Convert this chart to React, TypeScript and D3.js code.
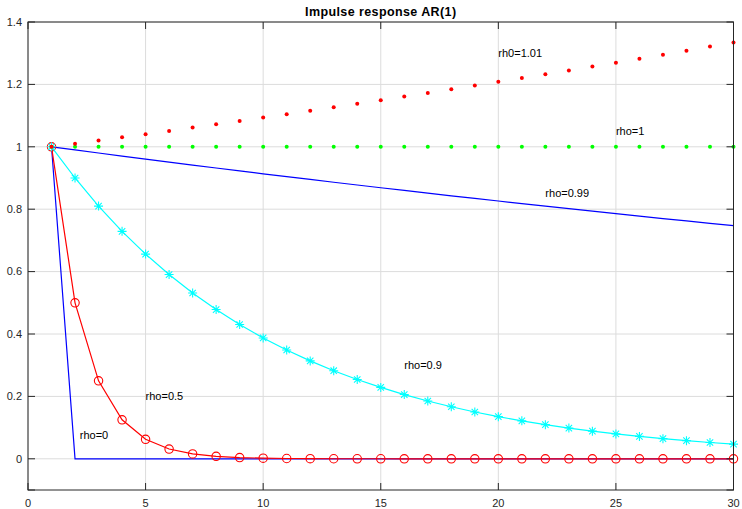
import { useEffect, useRef } from 'react';
import * as d3 from 'd3';

// lag index 1..30
const lags = d3.range(1, 31);

const rho101 = [1, 1.01, 1.0201, 1.0303, 1.0406, 1.051, 1.0615, 1.0721, 1.0829, 1.0937,
    1.1046, 1.1157, 1.1268, 1.1381, 1.1495, 1.161, 1.1726, 1.1843, 1.1961, 1.2081,
    1.2202, 1.2324, 1.2447, 1.2572, 1.2697, 1.2824, 1.2953, 1.3082, 1.3213, 1.3345];
const rho1 = [1, 1, 1, 1, 1, 1, 1, 1, 1, 1, 1, 1, 1, 1, 1, 1, 1, 1, 1, 1, 1, 1, 1, 1, 1, 1, 1, 1, 1, 1];
const rho099 = [1, 0.99, 0.9801, 0.9703, 0.9606, 0.951, 0.9415, 0.9321, 0.9227, 0.9135,
    0.9044, 0.8953, 0.8864, 0.8775, 0.8687, 0.8601, 0.8515, 0.8429, 0.8345, 0.8262,
    0.8179, 0.8097, 0.8016, 0.7936, 0.7857, 0.7778, 0.77, 0.7623, 0.7547, 0.7472];
const rho09 = [1, 0.9, 0.81, 0.729, 0.6561, 0.5905, 0.5314, 0.4783, 0.4305, 0.3874,
    0.3487, 0.3138, 0.2824, 0.2542, 0.2288, 0.2059, 0.1853, 0.1668, 0.1501, 0.1351,
    0.1216, 0.1094, 0.0985, 0.0886, 0.0798, 0.0718, 0.0646, 0.0581, 0.0523, 0.0471];
const rho05 = [1, 0.5, 0.25, 0.125, 0.0625, 0.0313, 0.0156, 0.0078, 0.0039, 0.002,
    0.001, 0.0005, 0.0002, 0.0001, 0.0001, 0, 0, 0, 0, 0, 0, 0, 0, 0, 0, 0, 0, 0, 0, 0];
const rho0 = [1, 0, 0, 0, 0, 0, 0, 0, 0, 0, 0, 0, 0, 0, 0, 0, 0, 0, 0, 0, 0, 0, 0, 0, 0, 0, 0, 0, 0, 0];

const xTicks = [0, 5, 10, 15, 20, 25, 30];
const yTicks = [0, 0.2, 0.4, 0.6, 0.8, 1, 1.2, 1.4];

const labels = [
    { text: 'rh0=1.01', x: 20, y: 1.3 },
    { text: 'rho=1', x: 25, y: 1.05 },
    { text: 'rho=0.99', x: 22, y: 0.85 },
    { text: 'rho=0.9', x: 16, y: 0.3 },
    { text: 'rho=0.5', x: 5, y: 0.2 },
    { text: 'rho=0', x: 2.2, y: 0.075 },
];

const App = () => {
    const ref = useRef<SVGSVGElement>(null);

    useEffect(() => {
        const width = 742;
        const height = 509;
        const left = 28, right = 733.5, top = 22, bottom = 490;
        const axisColor = '#262626';
        const font = 'Helvetica, Arial, "Liberation Sans", sans-serif';

        const svg = d3.select(ref.current);
        svg.selectAll('*').remove();
        svg.attr('width', width).attr('height', height);

        svg.append('rect').attr('width', width).attr('height', height).attr('fill', '#fff');

        const x = d3.scaleLinear().domain([0, 30]).range([left, right]);
        const y = d3.scaleLinear().domain([-0.1, 1.4]).range([bottom, top]);

        // grid
        const grid = svg.append('g').attr('stroke', '#dcdcdc').attr('stroke-width', 1);
        xTicks.forEach(t => {
            grid.append('line').attr('x1', x(t)).attr('x2', x(t)).attr('y1', top).attr('y2', bottom);
        });
        yTicks.forEach(t => {
            grid.append('line').attr('x1', left).attr('x2', right).attr('y1', y(t)).attr('y2', y(t));
        });

        const line = (vals: number[]) => d3.line<number>()
            .x((_, i) => x(lags[i]))
            .y(d => y(d))(vals);

        const plot = svg.append('g');

        // rho=0.99 and rho=0 lines
        plot.append('path').attr('d', line(rho099)).attr('fill', 'none')
            .attr('stroke', '#0000ff').attr('stroke-width', 1.2);
        plot.append('path').attr('d', line(rho0)).attr('fill', 'none')
            .attr('stroke', '#0000ff').attr('stroke-width', 1.2);

        // rho=0.5 with circles
        plot.append('path').attr('d', line(rho05)).attr('fill', 'none')
            .attr('stroke', '#ff0000').attr('stroke-width', 1.2);
        plot.selectAll()
            .data(rho05)
            .enter()
            .append('circle')
            .attr('cx', (_, i) => x(lags[i]))
            .attr('cy', d => y(d))
            .attr('r', 4.2)
            .attr('fill', 'none')
            .attr('stroke', '#ff0000')
            .attr('stroke-width', 1.1);

        // rho=0.9 with asterisks
        plot.append('path').attr('d', line(rho09)).attr('fill', 'none')
            .attr('stroke', '#00ffff').attr('stroke-width', 1.2);
        const star = 'M-4.5,0H4.5M0,-4.5V4.5M-3.2,-3.2L3.2,3.2M-3.2,3.2L3.2,-3.2';
        plot.selectAll()
            .data(rho09)
            .enter()
            .append('path')
            .attr('d', star)
            .attr('transform', (d, i) => `translate(${x(lags[i])},${y(d)})`)
            .attr('stroke', '#00ffff')
            .attr('stroke-width', 1.1)
            .attr('fill', 'none');

        // rho=1 green dots
        plot.selectAll()
            .data(rho1)
            .enter()
            .append('circle')
            .attr('cx', (_, i) => x(lags[i]))
            .attr('cy', d => y(d))
            .attr('r', 2)
            .attr('fill', '#00ff00');

        // rho=1.01 red dots
        plot.selectAll()
            .data(rho101)
            .enter()
            .append('circle')
            .attr('cx', (_, i) => x(lags[i]))
            .attr('cy', d => y(d))
            .attr('r', 2)
            .attr('fill', '#ff0000');

        // annotations
        svg.append('g')
            .selectAll()
            .data(labels)
            .enter()
            .append('text')
            .attr('x', d => x(d.x))
            .attr('y', d => y(d.y))
            .attr('dy', '0.35em')
            .attr('font-family', font)
            .attr('font-size', 11)
            .attr('fill', '#000')
            .text(d => d.text);

        // box and ticks
        const ax = svg.append('g').attr('stroke', axisColor).attr('stroke-width', 1).attr('fill', 'none');
        ax.append('rect').attr('x', left).attr('y', top).attr('width', right - left).attr('height', bottom - top);
        const tl = 7;
        xTicks.forEach(t => {
            ax.append('line').attr('x1', x(t)).attr('x2', x(t)).attr('y1', bottom).attr('y2', bottom - tl);
            ax.append('line').attr('x1', x(t)).attr('x2', x(t)).attr('y1', top).attr('y2', top + tl);
        });
        [-0.1, ...yTicks].forEach(t => {
            ax.append('line').attr('x1', left).attr('x2', left + tl).attr('y1', y(t)).attr('y2', y(t));
            ax.append('line').attr('x1', right).attr('x2', right - tl).attr('y1', y(t)).attr('y2', y(t));
        });

        svg.append('g')
            .selectAll()
            .data(xTicks)
            .enter()
            .append('text')
            .attr('x', d => x(d))
            .attr('y', bottom + 17)
            .attr('text-anchor', 'middle')
            .attr('font-family', font)
            .attr('font-size', 11)
            .attr('fill', axisColor)
            .text(d => String(d));

        svg.append('g')
            .selectAll()
            .data(yTicks)
            .enter()
            .append('text')
            .attr('x', left - 6)
            .attr('y', d => y(d))
            .attr('dy', '0.35em')
            .attr('text-anchor', 'end')
            .attr('font-family', font)
            .attr('font-size', 11)
            .attr('fill', axisColor)
            .text(d => String(d));

        svg.append('text')
            .attr('x', (left + right) / 2)
            .attr('y', 16)
            .attr('text-anchor', 'middle')
            .attr('font-family', font)
            .attr('font-size', 12.5)
            .attr('letter-spacing', 0.4)
            .attr('font-weight', 'bold')
            .attr('fill', '#000')
            .text('Impulse response AR(1)');
    }, []);

    return (
        <svg ref={ref} style={{ position: 'absolute', left: 0, top: 0, display: 'block' }}></svg>
    );
};

export default App;
